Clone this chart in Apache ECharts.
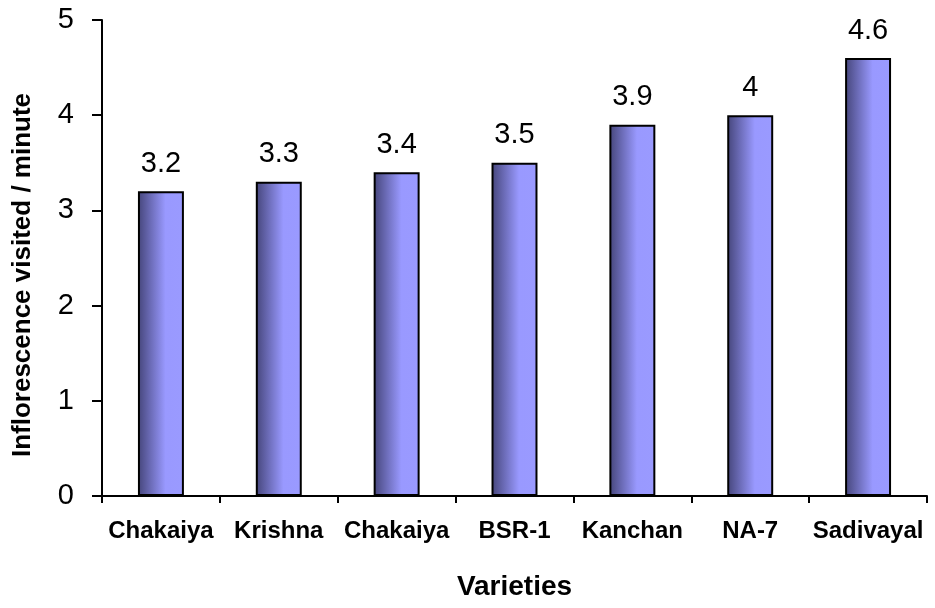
<!DOCTYPE html>
<html>
<head>
<meta charset="utf-8">
<script src="https://cdn.jsdelivr.net/npm/echarts@6/dist/echarts.min.js"></script>
<style>
  html, body { margin: 0; padding: 0; background: #fff; }
  #chart { width: 935px; height: 608px; }
</style>
</head>
<body>
<div id="chart"></div>
<script>
// Inflorescence visits per minute by variety
const varieties = ['Chakaiya', 'Krishna', 'Chakaiya', 'BSR-1', 'Kanchan', 'NA-7', 'Sadivayal'];
const visitsPerMinute = [3.2, 3.3, 3.4, 3.5, 3.9, 4, 4.6];
const yTicks = { min: 0, max: 5, interval: 1 };

const FONT = 'Liberation Sans, Arial, sans-serif';
const chart = echarts.init(document.getElementById('chart'), null, { renderer: 'canvas' });

const barFill = new echarts.graphic.LinearGradient(0, 0, 1, 0, [
  { offset: 0, color: '#45457a' },
  { offset: 0.6, color: '#9999ff' },
  { offset: 1, color: '#9a9aff' }
]);

chart.setOption({
  backgroundColor: '#ffffff',
  animation: false,
  grid: { left: 102, right: 8, top: 20, bottom: 112, containLabel: false, outerBoundsMode: 'none' },
  xAxis: {
    type: 'category',
    data: varieties,
    name: 'Varieties',
    nameLocation: 'middle',
    nameGap: 77,
    nameTextStyle: { fontFamily: FONT, fontWeight: 'bold', fontSize: 28, color: '#000' },
    axisLine: { lineStyle: { color: '#000', width: 2 } },
    axisTick: { show: true, alignWithLabel: false, length: 7, lineStyle: { color: '#000', width: 2 } },
    axisLabel: {
      interval: 0,
      margin: 23,
      fontFamily: FONT,
      fontWeight: 'bold',
      fontSize: 24,
      color: '#000'
    }
  },
  yAxis: {
    type: 'value',
    min: yTicks.min,
    max: yTicks.max,
    interval: yTicks.interval,
    name: 'Inflorescence visited / minute',
    nameLocation: 'middle',
    nameGap: 66,
    nameTextStyle: {
      fontFamily: FONT, fontWeight: 'bold', fontSize: 26, color: '#000',
      padding: [0, 34, 0, 0]
    },
    splitLine: { show: false },
    axisLine: { show: true, lineStyle: { color: '#000', width: 2 } },
    axisTick: { show: true, length: 10, lineStyle: { color: '#000', width: 2 } },
    axisLabel: {
      margin: 28,
      fontFamily: FONT,
      fontSize: 29,
      color: '#000'
    }
  },
  series: [{
    type: 'bar',
    data: visitsPerMinute,
    barWidth: '39%',
    itemStyle: { color: barFill, borderColor: '#000', borderWidth: 2 },
    label: {
      show: true,
      position: 'top',
      distance: 13,
      fontFamily: FONT,
      fontSize: 29,
      color: '#000'
    }
  }]
});
</script>
</body>
</html>
